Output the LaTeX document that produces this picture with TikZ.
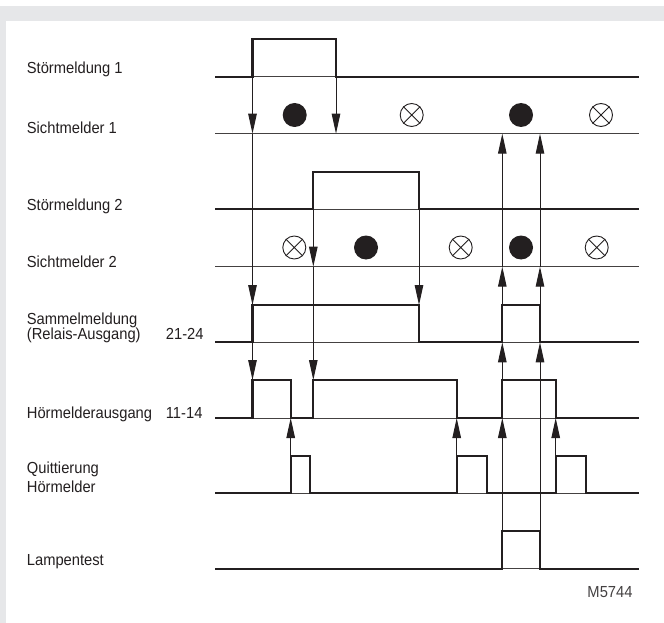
\documentclass[tikz,border=0pt]{standalone}
\usepackage{fontspec}
\setmainfont[FakeStretch=0.92]{Liberation Sans}
\usetikzlibrary{arrows.meta}
\definecolor{ink}{HTML}{231F20}
\definecolor{panel}{HTML}{E6E7E9}
\begin{document}
\begin{tikzpicture}[x=1pt,y=-1pt,
  sig/.style={draw=ink,line width=2.3pt,line join=miter},
  base/.style={draw=ink!85,line width=0.9pt},
  arr/.style={draw=ink,line width=1pt,-{Triangle[length=20pt,width=8.5pt]}},
  lbl/.style={anchor=base west,inner sep=0pt,text=ink,font=\fontsize{16}{19}\selectfont},
  lamp/.style={circle,fill=ink,minimum size=24pt,inner sep=0pt},
  off/.style={circle,draw=ink,line width=0.9pt,minimum size=23pt,inner sep=0pt}]
\useasboundingbox (0,0) rectangle (664,623);
\fill[white] (0,0) rectangle (664,623);
\fill[panel] (0,6) rectangle (664,21);
\fill[panel] (0,6) rectangle (6,623);

% labels
\node[lbl] (l1) at (26.7,73.8) {Störmeldung 1};
\node[lbl] (l2) at (26.7,134) {Sichtmelder 1};
\node[lbl] (l3) at (26.7,210) {Störmeldung 2};
\node[lbl] (l4) at (26.7,267) {Sichtmelder 2};
\node[lbl] (l5) at (26.7,324.3) {Sammelmeldung};
\node[lbl] (l5b) at (26.7,339.5) {(Relais-Ausgang)};
\node[lbl] (l5c) at (165.7,339.5) {21-24};
\node[lbl] (l6) at (26.7,418) {Hörmelderausgang};
\node[lbl] (l6c) at (165.7,418) {11-14};
\node[lbl] (l7) at (26.7,473.3) {Quittierung};
\node[lbl] (l7b) at (26.7,492.7) {Hörmelder};
\node[lbl] (l8) at (26.7,565) {Lampentest};
\node[lbl,anchor=base east,text=ink!85] (m) at (632.7,597.7) {M5744};

% thin base lines
\draw[base] (215,76.7) -- (638.5,76.7);
\draw[base] (215,133.7) -- (638.5,133.7);
\draw[base] (215,209.3) -- (638.5,209.3);
\draw[base] (215,266.7) -- (638.5,266.7);
\draw[base] (215,342.3) -- (638.5,342.3);
\draw[base] (215,418) -- (638.5,418);
\draw[base] (215,493.3) -- (638.5,493.3);
\draw[base] (215,568.7) -- (638.5,568.7);

% signals
\draw[sig] (215,76.7) -- (252.5,76.7) -- (252.5,39) -- (336,39) -- (336,76.7) -- (638.5,76.7);
\draw[sig] (215,209.3) -- (313.3,209.3) -- (313.3,171.7) -- (419,171.7) -- (419,209.3) -- (638.5,209.3);
\draw[sig] (215,342.3) -- (252.5,342.3) -- (252.5,305) -- (419,305) -- (419,342.3) -- (502.3,342.3) -- (502.3,305) -- (540,305) -- (540,342.3) -- (638.5,342.3);
\draw[sig] (215,418) -- (252.5,418) -- (252.5,380) -- (290.7,380) -- (290.7,418) -- (313.3,418) -- (313.3,380) -- (456.7,380) -- (456.7,418) -- (502.3,418) -- (502.3,380) -- (555.7,380) -- (555.7,418) -- (638.5,418);
\draw[sig] (215,493.3) -- (290.7,493.3) -- (290.7,456) -- (310,456) -- (310,493.3) -- (456.7,493.3) -- (456.7,456) -- (487.3,456) -- (487.3,493.3) -- (555.7,493.3) -- (555.7,456) -- (585.7,456) -- (585.7,493.3) -- (638.5,493.3);
\draw[sig] (215,568.7) -- (502.3,568.7) -- (502.3,531) -- (540,531) -- (540,568.7) -- (638.5,568.7);

% indicator lamps
\node[lamp] (d11) at (294.7,115) {};
\node[off] (o11) at (411.7,115) {};
\node[lamp] (d12) at (521,115) {};
\node[off] (o12) at (601,115) {};
\node[off] (o21) at (294.3,247.5) {};
\node[lamp] (d21) at (366,247.5) {};
\node[off] (o22) at (460.7,247.5) {};
\node[lamp] (d22) at (521,247.5) {};
\node[off] (o23) at (596.7,247.5) {};
\foreach \n in {o11,o12,o21,o22,o23}{
  \draw[ink,line width=0.9pt] (\n.north west) -- (\n.south east) (\n.north east) -- (\n.south west);
}

% arrow points
\coordinate (s1r) at (252.5,76.7);
\coordinate (v1a) at (252.5,133.7);
\coordinate (sma) at (252.5,305);
\coordinate (sla) at (252.5,342.3);
\coordinate (hha) at (252.5,380);
\coordinate (s1f) at (336,76.7);
\coordinate (v1c) at (336,133.7);
\coordinate (s2r) at (313.3,209.3);
\coordinate (v2b) at (313.3,266.7);
\coordinate (hhb) at (313.3,380);
\coordinate (s2f) at (419,209.3);
\coordinate (smd) at (419,305);
\coordinate (qe) at (290.7,456);
\coordinate (hle) at (290.7,418);
\coordinate (qf) at (456.7,456);
\coordinate (hlf) at (456.7,418);
\coordinate (qg) at (555.7,456);
\coordinate (hlg) at (555.7,418);
\coordinate (lg) at (502.3,531);
\coordinate (hlx) at (502.3,418);
\coordinate (slg) at (502.3,342.3);
\coordinate (v2g) at (502.3,266.7);
\coordinate (v1g) at (502.3,133.7);
\coordinate (lh) at (540,531);
\coordinate (slh) at (540,342.3);
\coordinate (v2h) at (540,266.7);
\coordinate (v1h) at (540,133.7);

% cause-effect arrows
\draw[arr] (s1r) -- (v1a);
\draw[arr] (v1a) -- (sma);
\draw[arr] (sla) -- (hha);
\draw[arr] (s1f) -- (v1c);
\draw[arr] (s2r) -- (v2b);
\draw[arr] (v2b) -- (hhb);
\draw[arr] (s2f) -- (smd);
\draw[arr] (qe) -- (hle);
\draw[arr] (qf) -- (hlf);
\draw[arr] (qg) -- (hlg);
\draw[arr] (lg) -- (hlx);
\draw[arr] (hlx) -- (slg);
\draw[arr] (slg) -- (v2g);
\draw[arr] (v2g) -- (v1g);
\draw[arr] (lh) -- (slh);
\draw[arr] (slh) -- (v2h);
\draw[arr] (v2h) -- (v1h);
\end{tikzpicture}
\end{document}
